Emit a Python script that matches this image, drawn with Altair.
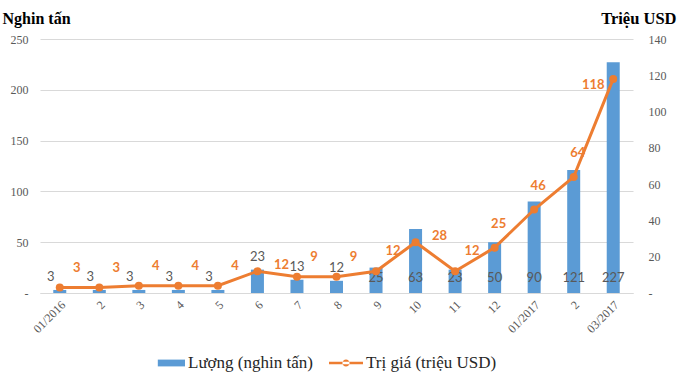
import altair as alt
import pandas as pd

# ---- data ----
months = ["01/2016", "2", "3", "4", "5", "6", "7", "8", "9", "10", "11", "12",
          "01/2017", "2", "03/2017"]
luong = [3, 3, 3, 3, 3, 23, 13, 12, 25, 63, 23, 50, 90, 121, 227]      # nghin tấn
trigia = [3, 3, 4, 4, 4, 12, 9, 9, 12, 28, 12, 25, 46, 64, 118]       # triệu USD
series_names = ["Lượng (nghin tấn)", "Trị giá (triệu USD)"]
left_ticks = [0, 50, 100, 150, 200, 250]
right_ticks = [0, 20, 40, 60, 80, 100, 120, 140]

BLUE = "#5B9BD5"
ORANGE = "#ED7D31"
GRAY = "#595959"
SERIF = "Liberation Serif"
SANS = "Lato"

df = pd.DataFrame({"idx": list(range(len(months))), "luong": luong, "trigia": trigia})
legend_df = pd.DataFrame({"series": series_names})

label_expr = "[" + ",".join("'" + m + "'" for m in months) + "][datum.value]"

x_enc = alt.X(
    "idx:O",
    scale=alt.Scale(paddingInner=0, paddingOuter=0),
    axis=alt.Axis(
        title=None, labelExpr=label_expr, labelAngle=-45, ticks=False,
        domainColor="#D9D9D9", labelFont=SERIF, labelFontSize=12,
        labelColor=GRAY, labelPadding=6,
    ),
)

left_scale = alt.Scale(domain=[0, 250])
right_scale = alt.Scale(domain=[0, 140])

left_axis = alt.Axis(
    values=left_ticks, labelExpr="datum.value == 0 ? '-' : datum.label",
    grid=True, gridColor="#D9D9D9", domain=False, ticks=False,
    labelFont=SERIF, labelFontSize=12, labelColor=GRAY, labelPadding=12,
    title="Nghin tấn", titleAngle=0, titleX=-38, titleY=-21,
    titleAlign="left", titleBaseline="middle", titleFont=SERIF,
    titleFontSize=16, titleFontWeight="bold", titleColor="#000000",
)
right_axis = alt.Axis(
    orient="right", values=right_ticks,
    labelExpr="datum.value == 0 ? '-' : datum.label",
    grid=False, domain=False, ticks=False,
    labelFont=SERIF, labelFontSize=12, labelColor=GRAY, labelPadding=15,
    title="Triệu USD", titleAngle=0, titleX=43, titleY=-21,
    titleAlign="right", titleBaseline="middle", titleFont=SERIF,
    titleFontSize=16.5, titleFontWeight="bold", titleColor="#000000",
)

base = alt.Chart(df)

y_left = alt.Y("luong:Q", scale=left_scale, axis=left_axis)
bars = base.mark_bar(size=13, color=BLUE).encode(x=x_enc, y=y_left)

bar_text_style = dict(font=SANS, fontSize=13, color=GRAY, baseline="middle")
bar_lbl_a = base.transform_filter("datum.idx < 5").mark_text(dx=-9, dy=-13, **bar_text_style).encode(
    x=x_enc, y=y_left, text="luong:Q")
bar_lbl_b = base.transform_filter("datum.idx >= 5 && datum.idx < 8").mark_text(dy=-13, **bar_text_style).encode(
    x=x_enc, y=y_left, text="luong:Q")
bar_lbl_c = base.transform_filter("datum.idx >= 8").transform_calculate(base0="0").mark_text(
    dy=-15, **bar_text_style).encode(
    x=x_enc, y=alt.Y("base0:Q", scale=left_scale, axis=left_axis), text="luong:Q")

legend_layer = alt.Chart(legend_df).mark_point(filled=True, opacity=0).encode(
    color=alt.Color(
        "series:N",
        scale=alt.Scale(domain=series_names, range=[BLUE, ORANGE]),
        legend=alt.Legend(
            title=None, orient="none", direction="horizontal",
            legendX=111, legendY=307, padding=0,
            symbolSize=1156, symbolOpacity=1, symbolStrokeWidth=0,
            labelFont=SERIF, labelFontSize=17, labelColor="#262626",
            labelOffset=3, columnPadding=16,
        ),
    ),
    shape=alt.Shape(
        "series:N",
        scale=alt.Scale(
            domain=series_names,
            range=[
                "M-0.6,-0.2H1V0.2H-0.6Z",
                "M-1,-0.075H1V0.075H-1Z M0.21,0A0.21,0.21 0 1,0 -0.21,0A0.21,0.21 0 1,0 0.21,0Z",
            ],
        ),
        legend=None,
    ),
)

left = alt.layer(bars, bar_lbl_a, bar_lbl_b, bar_lbl_c, legend_layer)

y_right = alt.Y("trigia:Q", scale=right_scale, axis=right_axis)

line = base.mark_line(color=ORANGE, strokeWidth=3).encode(x=x_enc, y=y_right)
points = base.mark_point(filled=True, color=ORANGE, size=64, opacity=1).encode(x=x_enc, y=y_right)

line_text_style = dict(font=SANS, fontSize=13, fontWeight="bold", color=ORANGE, baseline="middle")
lt_g1 = base.transform_filter("indexof([0,1,2,3,4,6,7,8,10], datum.idx) >= 0").mark_text(
    dx=17, dy=-20, **line_text_style).encode(x=x_enc, y=y_right, text="trigia:Q")
lt_g2 = base.transform_filter("datum.idx == 5 || datum.idx == 9").mark_text(
    dx=24, dy=-6, **line_text_style).encode(x=x_enc, y=y_right, text="trigia:Q")
lt_g3 = base.transform_filter("datum.idx >= 11 && datum.idx <= 13").mark_text(
    dx=4, dy=-24, **line_text_style).encode(x=x_enc, y=y_right, text="trigia:Q")
lt_g4 = base.transform_filter("datum.idx == 14").mark_text(
    dx=-20, dy=6, **line_text_style).encode(x=x_enc, y=y_right, text="trigia:Q")

right = alt.layer(line, points, lt_g1, lt_g2, lt_g3, lt_g4)

chart = (
    alt.layer(left, right)
    .resolve_scale(y="independent")
    .properties(
        width=593, height=254,
        autosize=alt.AutoSizeParams(type="none"),
        padding={"left": 40, "top": 39, "right": 47, "bottom": 89},
        background="white",
    )
    .configure_view(stroke=None)
    .configure_legend(labelFont=SERIF, labelFontSize=17, labelColor="#262626")
)

chart.save("out.html", embed_options={"renderer": "svg", "actions": False})
